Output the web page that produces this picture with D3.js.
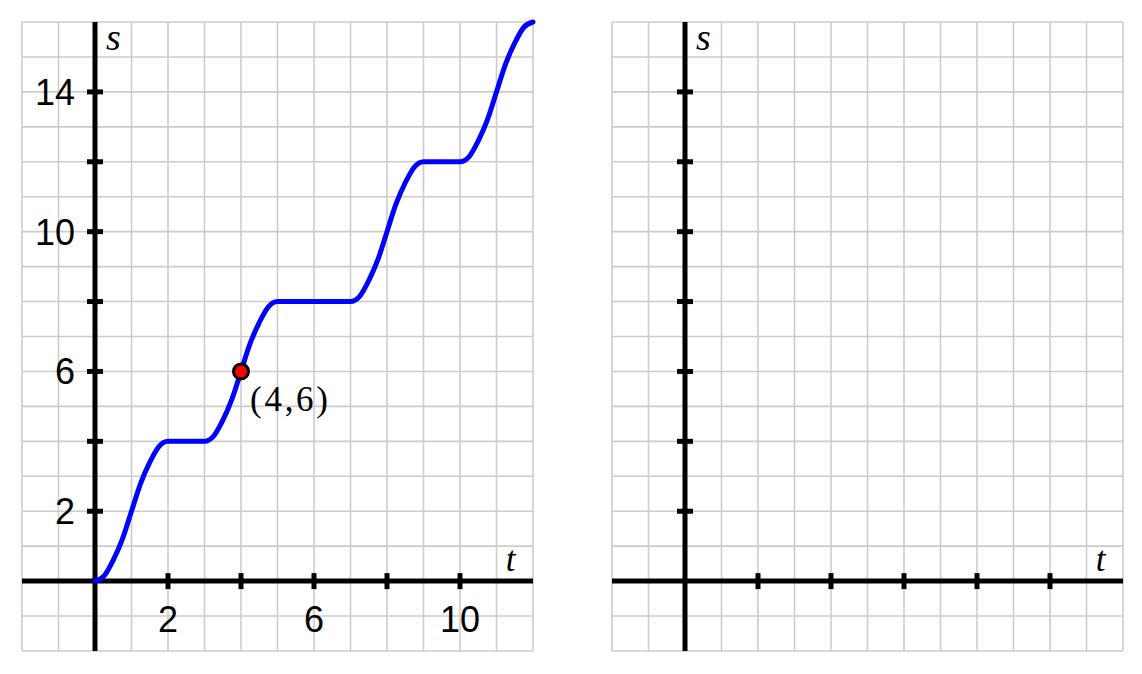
<!DOCTYPE html>
<html><head><meta charset="utf-8">
<script src="https://cdn.jsdelivr.net/npm/d3@7"></script>
<style>body{margin:0;background:#fff}svg{display:block}</style>
</head><body>
<svg id="c" width="1142" height="674"></svg>
<script>
// Data
const tValues = [0, 0.25, 0.5, 0.75, 1, 1.25, 1.5, 1.75, 2, 3, 3.25, 3.5, 3.75, 4, 4.25, 4.5, 4.75, 5, 7, 7.25, 7.5, 7.75, 8, 8.25, 8.5, 8.75, 9, 10, 10.25, 10.5, 10.75, 11, 11.25, 11.5, 11.75, 12];
const sValues = [0, 0.15, 0.6, 1.2, 2, 2.8, 3.4, 3.85, 4, 4, 4.15, 4.6, 5.2, 6, 6.8, 7.4, 7.85, 8, 8, 8.15, 8.6, 9.2, 10, 10.8, 11.4, 11.85, 12, 12, 12.15, 12.6, 13.2, 14, 14.8, 15.4, 15.85, 16];
const highlight = [4, 6];
const highlightLabel = "(4,6)";
const xTicks = [2, 4, 6, 8, 10];
const yTicks = [2, 4, 6, 8, 10, 12, 14];
const xTickLabels = [2, 6, 10];
const yTickLabels = [2, 6, 10, 14];
const xDomain = [-2, 12];
const yDomain = [-2, 16];

const svg = d3.select("#c");
const panels = [
  {x0: 22, x1: 533, labels: true, curve: true},
  {x0: 612, x1: 1123, labels: false, curve: false}
];
const yTop = 22, yBot = 651;

panels.forEach(p => {
  const x = d3.scaleLinear().domain(xDomain).range([p.x0, p.x1]);
  const y = d3.scaleLinear().domain(yDomain).range([yBot, yTop]);
  const g = svg.append("g");
  // grid
  const gx = d3.range(xDomain[0], xDomain[1] + 1);
  const gy = d3.range(yDomain[0], yDomain[1] + 1);
  g.selectAll(".gv").data(gx).join("line")
    .attr("x1", d => x(d)).attr("x2", d => x(d)).attr("y1", yTop).attr("y2", yBot)
    .attr("stroke", "#cccccc").attr("stroke-width", 1.6);
  g.selectAll(".gh").data(gy).join("line")
    .attr("y1", d => y(d)).attr("y2", d => y(d)).attr("x1", p.x0).attr("x2", p.x1)
    .attr("stroke", "#cccccc").attr("stroke-width", 1.6);
  // axes
  g.append("line").attr("x1", x(xDomain[0])).attr("x2", x(xDomain[1])).attr("y1", y(0)).attr("y2", y(0))
    .attr("stroke", "#000").attr("stroke-width", 5);
  g.append("line").attr("x1", x(0)).attr("x2", x(0)).attr("y1", y(yDomain[0])).attr("y2", y(yDomain[1]))
    .attr("stroke", "#000").attr("stroke-width", 5);
  // ticks
  g.selectAll(".xt").data(xTicks).join("line")
    .attr("x1", d => x(d)).attr("x2", d => x(d)).attr("y1", y(0) - 8).attr("y2", y(0) + 8)
    .attr("stroke", "#000").attr("stroke-width", 5);
  g.selectAll(".yt").data(yTicks).join("line")
    .attr("y1", d => y(d)).attr("y2", d => y(d)).attr("x1", x(0) - 8).attr("x2", x(0) + 8)
    .attr("stroke", "#000").attr("stroke-width", 5);
  if (p.labels) {
    g.selectAll(".xl").data(xTickLabels).join("text")
      .attr("x", d => x(d)).attr("y", y(0) + 51)
      .attr("text-anchor", "middle")
      .attr("font-family", "Liberation Sans, Arial, sans-serif").attr("font-size", 36)
      .text(d => d);
    g.selectAll(".yl").data(yTickLabels).join("text")
      .attr("x", x(0) - 20).attr("y", d => y(d) + 13)
      .attr("text-anchor", "end")
      .attr("font-family", "Liberation Sans, Arial, sans-serif").attr("font-size", 36)
      .text(d => d);
  }
  // axis names
  g.append("text").attr("x", x(0) + 11).attr("y", 50)
    .attr("font-family", "Liberation Serif, Times New Roman, serif").attr("font-style", "italic")
    .attr("font-size", 38).text("s");
  g.append("text").attr("x", x(11.25)).attr("y", 571)
    .attr("font-family", "Liberation Serif, Times New Roman, serif").attr("font-style", "italic")
    .attr("font-size", 35).text("t");
  if (p.curve) {
    const pts = tValues.map((t, i) => [t, sValues[i]]);
    const line = d3.line().x(d => x(d[0])).y(d => y(d[1])).curve(d3.curveMonotoneX);
    g.append("path").attr("d", line(pts)).attr("fill", "none")
      .attr("stroke", "#0000ff").attr("stroke-width", 5).attr("stroke-linecap", "round");
    g.append("circle").attr("cx", x(highlight[0])).attr("cy", y(highlight[1])).attr("r", 7.5)
      .attr("fill", "#ff0000").attr("stroke", "#000").attr("stroke-width", 3);
    g.append("text").attr("x", x(highlight[0]) + 9).attr("y", 411)
      .attr("font-family", "Liberation Serif, Times New Roman, serif")
      .attr("font-size", 35).attr("textLength", 78).attr("lengthAdjust", "spacing")
      .text(highlightLabel);
  }
});
</script>
</body></html>
